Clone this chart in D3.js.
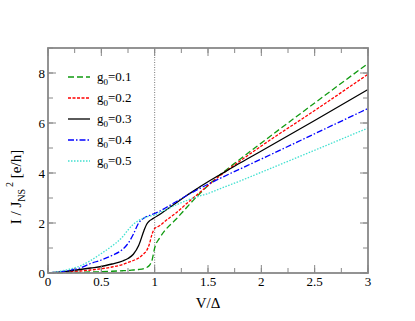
<!DOCTYPE html>
<html lang="en">
<head>
<meta charset="utf-8">
<title>I-V curves</title>
<script src="https://d3js.org/d3.v7.min.js"></script>
<style>
  body { margin: 0; background: #fff; }
  text { font-family: "Liberation Serif", "Times New Roman", serif; }
</style>
</head>
<body>
<script>
// data
var V = [0, 0.1, 0.2, 0.3, 0.4, 0.5, 0.6, 0.7, 0.75, 0.8, 0.85, 0.9, 0.925, 0.95, 0.975, 1.0, 1.05, 1.1, 1.2, 1.3, 1.4, 1.5, 1.6, 1.8, 2.0, 2.5, 3.0];
var g01 = [0, 0.005, 0.015, 0.025, 0.04, 0.05, 0.07, 0.09, 0.1, 0.12, 0.14, 0.18, 0.22, 0.3, 0.5, 1.0, 1.42, 1.72, 2.15, 2.62, 3.08, 3.5, 3.88, 4.55, 5.2, 6.8, 8.38];
var g02 = [0, 0.02, 0.05, 0.08, 0.12, 0.17, 0.24, 0.34, 0.42, 0.5, 0.6, 0.78, 0.9, 1.15, 1.55, 1.78, 1.9, 2.08, 2.4, 2.78, 3.14, 3.5, 3.85, 4.48, 5.08, 6.5, 7.95];
var g03 = [0, 0.03, 0.08, 0.14, 0.2, 0.26, 0.36, 0.48, 0.58, 0.75, 1.1, 1.7, 1.95, 2.08, 2.15, 2.22, 2.35, 2.5, 2.8, 3.1, 3.38, 3.65, 3.9, 4.4, 4.88, 6.1, 7.34];
var g04 = [0, 0.04, 0.1, 0.2, 0.38, 0.52, 0.7, 0.95, 1.18, 1.55, 2.0, 2.2, 2.26, 2.3, 2.34, 2.38, 2.48, 2.6, 2.85, 3.1, 3.33, 3.55, 3.76, 4.16, 4.56, 5.57, 6.58];
var g05 = [0, 0.06, 0.15, 0.28, 0.5, 0.78, 1.08, 1.45, 1.72, 1.95, 2.1, 2.2, 2.24, 2.27, 2.3, 2.32, 2.42, 2.52, 2.72, 2.9, 3.05, 3.18, 3.35, 3.68, 4.03, 4.91, 5.8];
var seriesNames = ["0.1", "0.2", "0.3", "0.4", "0.5"];
var seriesVals = [g01, g02, g03, g04, g05];
var colors = ["#109a10", "#ff0000", "#000000", "#0000ff", "#40e0d0"];
var dashes = ["6,3", "3,1.5", null, "6,2,1.5,2", "1.5,1.5"];
var xMajor = [0, 0.5, 1, 1.5, 2, 2.5, 3];
var yMajor = [0, 2, 4, 6, 8];

var w = 415, h = 321;
var pL = 48, pR = 368, pT = 48, pB = 273;

var svg = d3.select("body").append("svg")
    .attr("width", w)
    .attr("height", h);

var x = d3.scaleLinear().domain([0, 3]).range([pL, pR]);
var y = d3.scaleLinear().domain([0, 9]).range([pB, pT]);

var xMinor = d3.range(0, 3.001, 0.25);
var yMinor = d3.range(0, 9.001, 1);

// dotted line at V = Delta
svg.append("line")
    .attr("x1", x(1)).attr("x2", x(1))
    .attr("y1", y(0)).attr("y2", y(9))
    .attr("stroke", "#777")
    .attr("stroke-width", 1)
    .attr("stroke-dasharray", "1,1.5");

// curves
var line = d3.line()
    .x(function(d) { return x(d[0]); })
    .y(function(d) { return y(d[1]); })
    .curve(d3.curveMonotoneX);

seriesVals.forEach(function(vals, i) {
    svg.append("path")
        .datum(V.map(function(v, j) { return [v, vals[j]]; }))
        .attr("d", line)
        .attr("fill", "none")
        .attr("stroke", colors[i])
        .attr("stroke-width", 1.3)
        .attr("stroke-dasharray", dashes[i]);
});

// frame and ticks (inward, mirrored)
var frameColor = "#888";
function xTickSet(vals, len) {
    vals.forEach(function(v) {
        svg.append("line").attr("x1", x(v)).attr("x2", x(v)).attr("y1", pB).attr("y2", pB - len).attr("stroke", frameColor);
        svg.append("line").attr("x1", x(v)).attr("x2", x(v)).attr("y1", pT).attr("y2", pT + len).attr("stroke", frameColor);
    });
}
xTickSet(xMinor, 5);
xTickSet(xMajor, 8);
function yTickSet(vals, len) {
    vals.forEach(function(v) {
        svg.append("line").attr("x1", pL).attr("x2", pL + len).attr("y1", y(v)).attr("y2", y(v)).attr("stroke", frameColor);
        svg.append("line").attr("x1", pR).attr("x2", pR - len).attr("y1", y(v)).attr("y2", y(v)).attr("stroke", frameColor);
    });
}
yTickSet(yMinor, 5);
yTickSet(yMajor, 8);

svg.append("rect")
    .attr("x", pL).attr("y", pT)
    .attr("width", pR - pL).attr("height", pB - pT)
    .attr("fill", "none")
    .attr("stroke", frameColor)
    .attr("stroke-width", 1.8);

// tick labels
svg.selectAll(".xl").data(xMajor).enter().append("text")
    .attr("x", function(d) { return x(d); })
    .attr("y", 286)
    .attr("text-anchor", "middle")
    .attr("font-size", 13)
    .text(function(d) { return d; });

svg.selectAll(".yl").data(yMajor).enter().append("text")
    .attr("x", 45)
    .attr("y", function(d) { return y(d) + 4.5; })
    .attr("text-anchor", "end")
    .attr("font-size", 13)
    .text(function(d) { return d; });

// axis titles
svg.append("text")
    .attr("x", 208).attr("y", 308)
    .attr("text-anchor", "middle")
    .attr("font-size", 15)
    .text("V/\u0394");

var yt = svg.append("text")
    .attr("transform", "translate(21,187) rotate(-90)")
    .attr("text-anchor", "middle")
    .attr("font-size", 15);
yt.append("tspan").text("I / J");
yt.append("tspan").attr("font-size", 10).attr("dy", 4).text("NS");
yt.append("tspan").attr("font-size", 10).attr("dy", -12).attr("dx", 2).text("2");
yt.append("tspan").attr("dy", 8).text(" [e/h]");

// legend
seriesNames.forEach(function(name, i) {
    var ly = 77 + i * 21;
    svg.append("line")
        .attr("x1", 68).attr("x2", 90)
        .attr("y1", ly).attr("y2", ly)
        .attr("stroke", colors[i])
        .attr("stroke-width", 1.3)
        .attr("stroke-dasharray", dashes[i]);
    var t = svg.append("text")
        .attr("x", 97).attr("y", ly + 4)
        .attr("font-size", 13);
    t.append("tspan").text("g");
    t.append("tspan").attr("font-size", 9).attr("dy", 4).text("0");
    t.append("tspan").attr("dy", -4).text("=" + name);
});
</script>
</body>
</html>
